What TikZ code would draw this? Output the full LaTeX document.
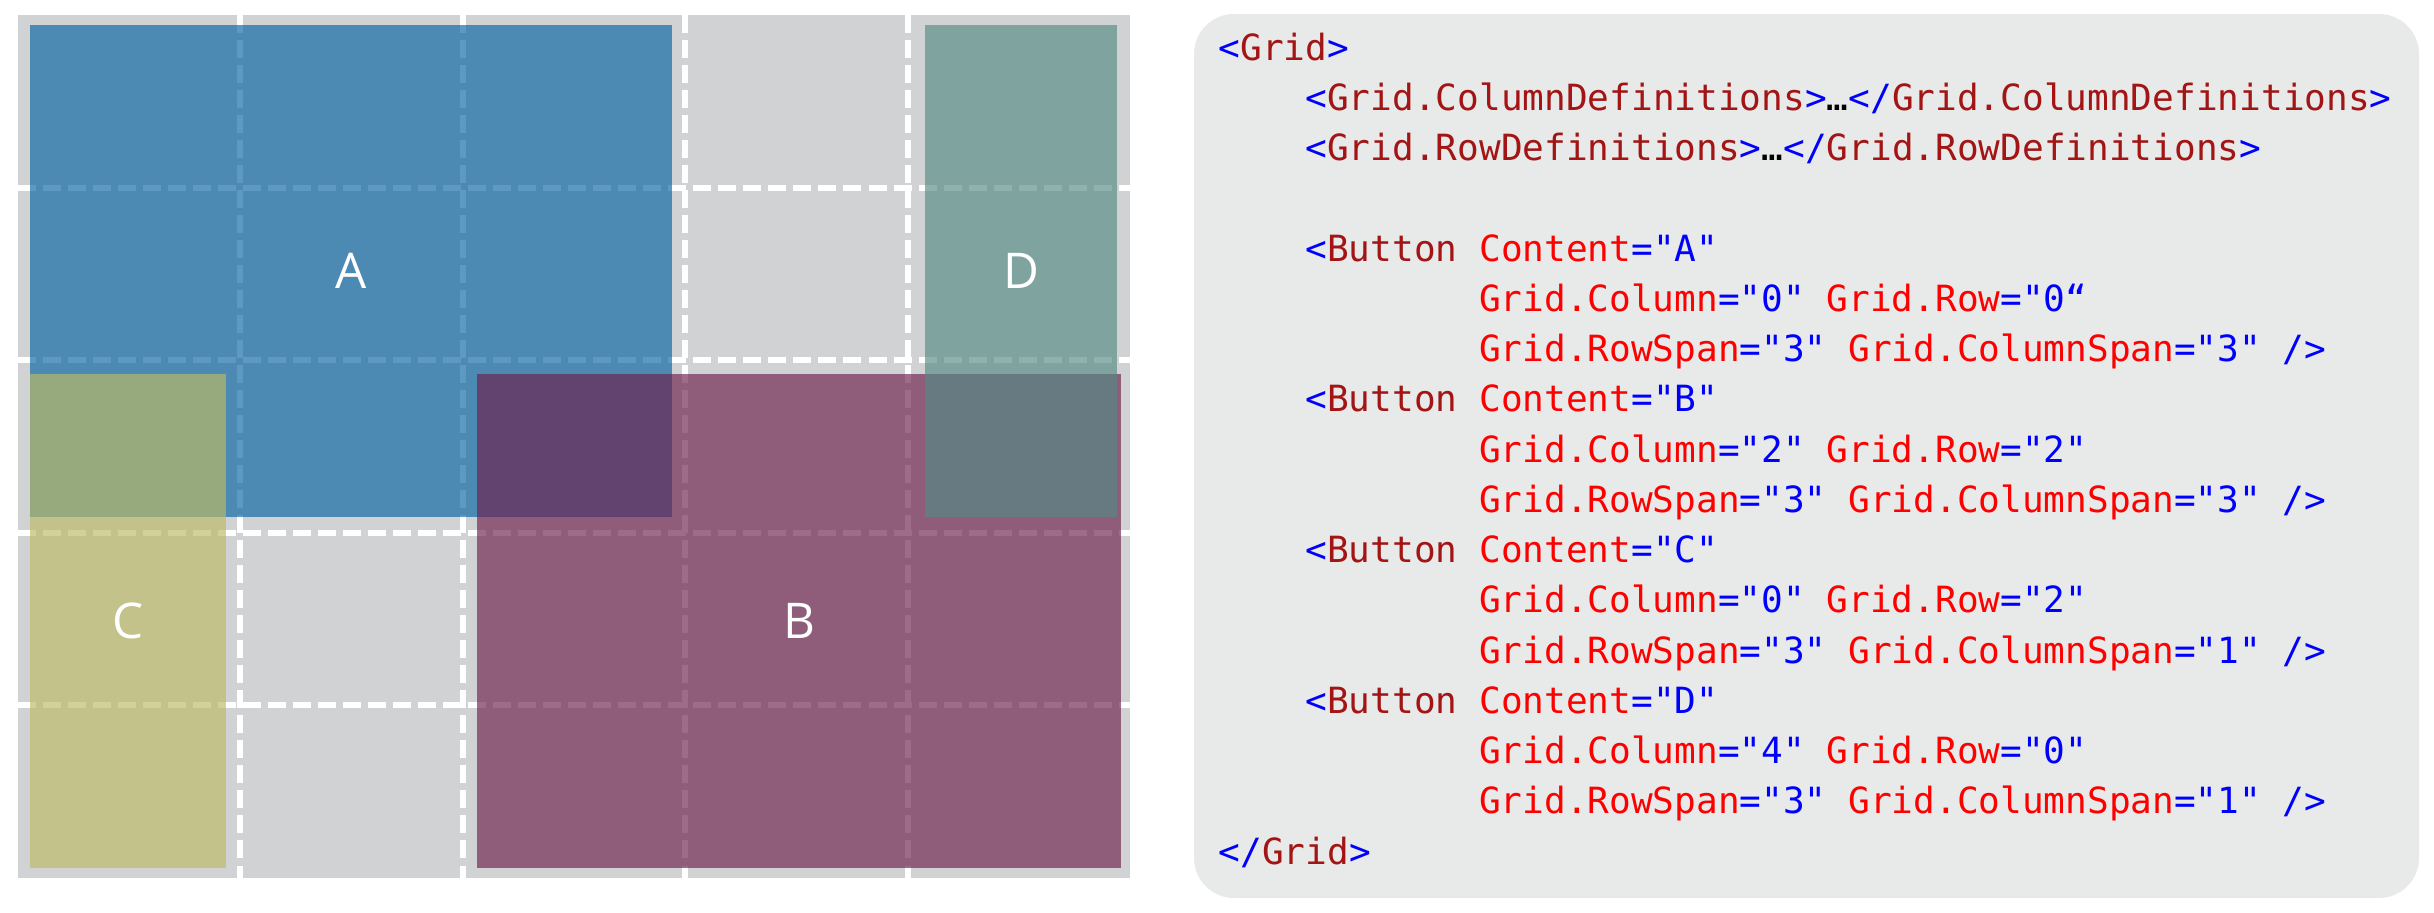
\documentclass[tikz,border=0pt]{standalone}
\usepackage{fontspec}
\setmainfont{Open Sans}
\newfontfamily\codefont{DejaVu Sans Mono}

\definecolor{gridgray}{RGB}{209,210,212}
\definecolor{panelgray}{RGB}{232,233,233}
\definecolor{colA}{RGB}{10,101,162}
\definecolor{colB}{RGB}{109,31,76}
\definecolor{colC}{RGB}{188,187,100}
\definecolor{colD}{RGB}{85,139,133}
\definecolor{xmlblue}{RGB}{0,0,255}
\definecolor{xmltag}{RGB}{163,21,21}
\definecolor{xmlattr}{RGB}{255,0,0}

\newcommand{\xb}[1]{\textcolor{xmlblue}{#1}}
\newcommand{\xt}[1]{\textcolor{xmltag}{#1}}
\newcommand{\xa}[1]{\textcolor{xmlattr}{#1}}

\begin{document}
\begin{tikzpicture}[x=0.01cm, y=-0.01cm,
  gridline/.style={white, line width=0.06cm, dash pattern=on 0.18cm off 0.07cm},
  btn/.style={fill opacity=0.66, text opacity=1, text=white, inner sep=0pt,
              font=\fontsize{14pt}{16pt}\selectfont},
  code/.style={anchor=base west, inner sep=0pt,
               font=\codefont\fontsize{10.26pt}{12pt}\selectfont}]
\useasboundingbox (0,0) rectangle (2434,912);

% the grid
\fill[gridgray] (18,15) rectangle (1130,878);
\foreach \i in {1,...,4} {
  \draw[gridline] ({18+\i*222.4},15) -- ({18+\i*222.4},878);
  \draw[gridline] (18,{15+\i*172.6}) -- (1130,{15+\i*172.6});
}

% buttons
\node[btn, fill=colA, minimum width=6.42cm, minimum height=4.92cm] (A) at (351,271) {A};
\node[btn, fill=colB, minimum width=6.44cm, minimum height=4.94cm] (B) at (799,621) {B};
\node[btn, fill=colC, minimum width=1.96cm, minimum height=4.94cm] (C) at (128,621) {C};
\node[btn, fill=colD, minimum width=1.92cm, minimum height=4.92cm] (D) at (1021,271) {D};

% code panel
\fill[panelgray, rounded corners=0.4cm] (1194,14) rectangle (2419,898);

\node[code] (l1)  at (1218,60)     {\xb{<}\xt{Grid}\xb{>}};
\node[code] (l2)  at (1304.8,110.25) {\xb{<}\xt{Grid.ColumnDefinitions}\xb{>}…\xb{</}\xt{Grid.ColumnDefinitions}\xb{>}};
\node[code] (l3)  at (1304.8,160.5)  {\xb{<}\xt{Grid.RowDefinitions}\xb{>}…\xb{</}\xt{Grid.RowDefinitions}\xb{>}};

\node[code] (l5)  at (1304.8,261)    {\xb{<}\xt{Button} \xa{Content}\xb{="A"}};
\node[code] (l6)  at (1478.4,311.25) {\xa{Grid.Column}\xb{="0"} \xa{Grid.Row}\xb{="0“}};
\node[code] (l7)  at (1478.4,361.5)  {\xa{Grid.RowSpan}\xb{="3"} \xa{Grid.ColumnSpan}\xb{="3" />}};
\node[code] (l8)  at (1304.8,411.75) {\xb{<}\xt{Button} \xa{Content}\xb{="B"}};
\node[code] (l9)  at (1478.4,462)    {\xa{Grid.Column}\xb{="2"} \xa{Grid.Row}\xb{="2"}};
\node[code] (l10) at (1478.4,512.25) {\xa{Grid.RowSpan}\xb{="3"} \xa{Grid.ColumnSpan}\xb{="3" />}};
\node[code] (l11) at (1304.8,562.5)  {\xb{<}\xt{Button} \xa{Content}\xb{="C"}};
\node[code] (l12) at (1478.4,612.75) {\xa{Grid.Column}\xb{="0"} \xa{Grid.Row}\xb{="2"}};
\node[code] (l13) at (1478.4,663)    {\xa{Grid.RowSpan}\xb{="3"} \xa{Grid.ColumnSpan}\xb{="1" />}};
\node[code] (l14) at (1304.8,713.25) {\xb{<}\xt{Button} \xa{Content}\xb{="D"}};
\node[code] (l15) at (1478.4,763.5)  {\xa{Grid.Column}\xb{="4"} \xa{Grid.Row}\xb{="0"}};
\node[code] (l16) at (1478.4,813.75) {\xa{Grid.RowSpan}\xb{="3"} \xa{Grid.ColumnSpan}\xb{="1" />}};
\node[code] (l17) at (1218,864)    {\xb{</}\xt{Grid}\xb{>}};
\end{tikzpicture}
\end{document}
